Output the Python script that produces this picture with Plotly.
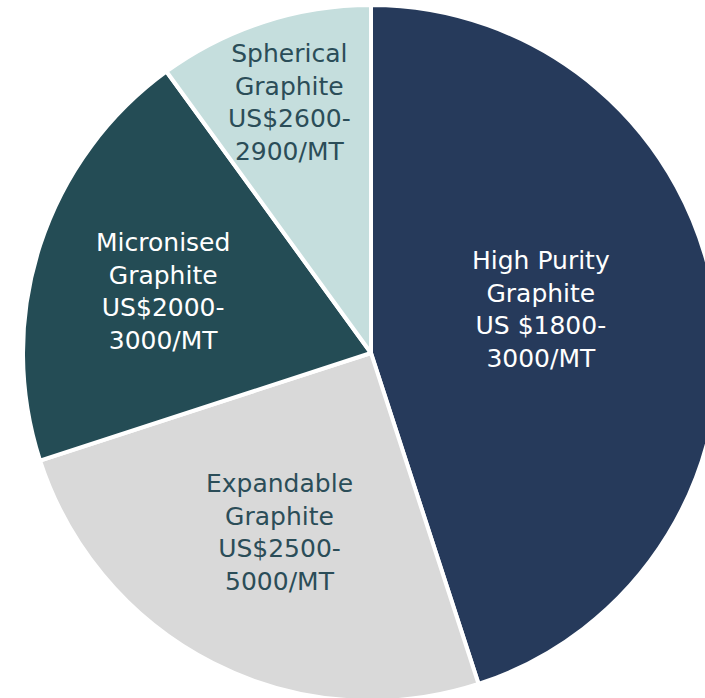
import plotly.graph_objects as go

# Graphite product segments and their price ranges
segments = ["High Purity Graphite", "Expandable Graphite", "Micronised Graphite", "Spherical Graphite"]
shares = [45, 25, 20, 10]
price_labels = [
    "High Purity<br>Graphite<br>US $1800-<br>3000/MT",
    "Expandable<br>Graphite<br>US$2500-<br>5000/MT",
    "Micronised<br>Graphite<br>US$2000-<br>3000/MT",
    "Spherical<br>Graphite<br>US$2600-<br>2900/MT",
]
slice_colors = ["#263a5b", "#d9d9d9", "#244c55", "#c5dedd"]
label_colors = ["#ffffff", "#2b4d58", "#ffffff", "#2b4d58"]

# Label block centres (paper fractions) inside each slice
label_x = [0.744, 0.369, 0.201, 0.3836]
label_y = [0.5618, 0.2414, 0.5885, 0.8606]

W, H = 719, 701
fig = go.Figure(
    go.Pie(
        labels=segments,
        values=shares,
        sort=False,
        direction="clockwise",
        rotation=0,
        marker=dict(colors=slice_colors, line=dict(color="#ffffff", width=4)),
        textinfo="none",
        hoverinfo="label+percent",
        showlegend=False,
    )
)

for txt, col, x, y in zip(price_labels, label_colors, label_x, label_y):
    fig.add_annotation(
        text=txt, x=x, y=y, xref="paper", yref="paper",
        xanchor="center", yanchor="middle",
        showarrow=False, align="center",
        font=dict(family="DejaVu Sans", size=25, color=col),
    )

fig.update_layout(
    width=W, height=H,
    margin=dict(l=23, r=0, t=5, b=0),
    paper_bgcolor="#ffffff",
    plot_bgcolor="#ffffff",
)

fig.write_html("out.html", post_script="document.body.style.overflow='hidden';")
